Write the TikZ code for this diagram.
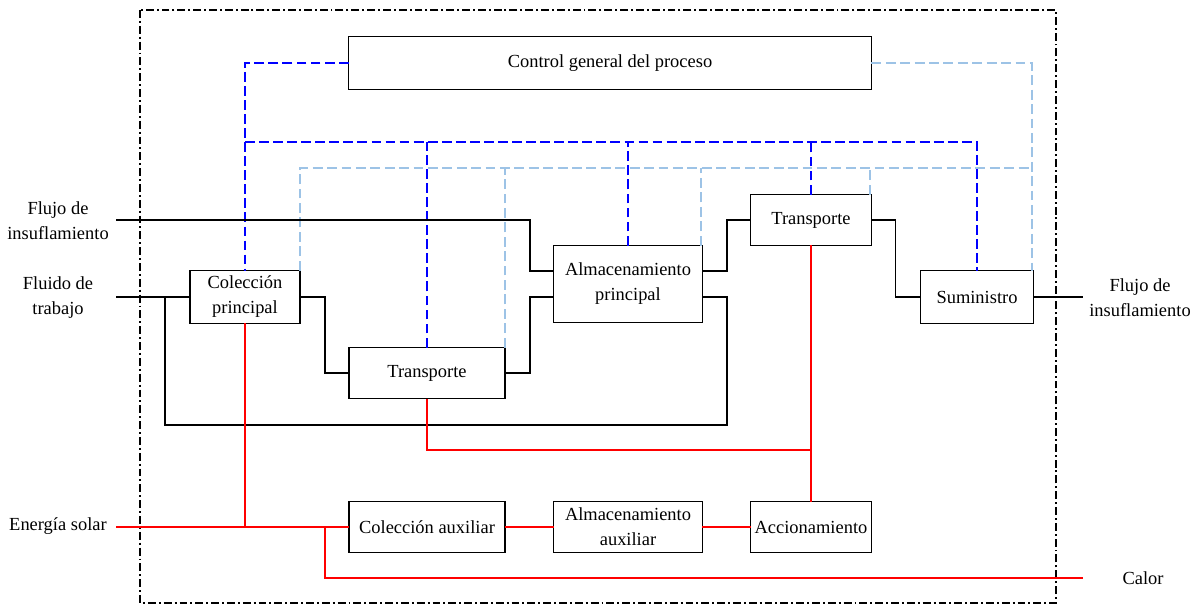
\documentclass[tikz,border=0pt]{standalone}
\usepackage{fontspec}
\setmainfont{Liberation Serif}
\definecolor{ctrlblue}{RGB}{0,0,255}
\definecolor{lightctrl}{RGB}{157,195,230}
\definecolor{energyred}{RGB}{255,0,0}
\begin{document}
\begin{tikzpicture}[x=0.02cm,y=-0.02cm,
  font=\fontsize{10.5}{14.2}\selectfont,
  box/.style={draw, line width=0.75pt, inner sep=0pt, outer sep=0pt, align=center, minimum height=1.02cm},
  lbl/.style={inner sep=0pt, align=center},
  flow/.style={draw=black, line width=0.75pt},
  heat/.style={draw=energyred, line width=0.8pt},
  ctrlA/.style={draw=ctrlblue, line width=1.1pt, dash pattern=on 5.6pt off 2.4pt},
  ctrlB/.style={draw=lightctrl, line width=0.9pt, dash pattern=on 5.6pt off 2.6pt},
  frame/.style={draw=black, line width=1.3pt, dash pattern=on 4.5pt off 1.7pt on 1.1pt off 1.7pt}]

\useasboundingbox (0,0) rectangle (1200,605);

% system boundary
\draw[frame] (140,10) rectangle (1056,603);

% blocks
\node[box, minimum width=10.46cm, minimum height=1.06cm] (ctrl) at (610,63) {Control general del proceso};
\node[box, minimum width=2.2cm, minimum height=1.06cm] (colp) at (245,297) {Colección\\principal};
\node[box, minimum width=3.12cm] (trans2) at (427,373) {Transporte};
\node[box, minimum width=2.98cm, minimum height=1.54cm] (almp) at (628,284) {Almacenamiento\\principal};
\node[box, minimum width=2.42cm] (trans1) at (811,220) {Transporte};
\node[box, minimum width=2.26cm, minimum height=1.06cm] (sum) at (977,297) {Suministro};
\node[box, minimum width=3.12cm] (cola) at (427,527) {Colección auxiliar};
\node[box, minimum width=2.98cm] (alma) at (628,527) {Almacenamiento\\auxiliar};
\node[box, minimum width=2.42cm] (acc) at (811,527) {Accionamiento};

% outside labels
\node[lbl] (lfin) at (58,221) {Flujo de\\insuflamiento};
\node[lbl] (lfdt) at (58,298) {Fluido de\\trabajo};
\node[lbl] (les) at (58,526) {Energía solar};
\node[lbl] (lfout) at (1140,298) {Flujo de\\insuflamiento};
\node[lbl] (lcal) at (1143,578) {Calor};

% helper coordinates
\coordinate (fin) at (116,220);
\coordinate (fdt) at (116,297);
\coordinate (es) at (116,527);
\coordinate (fout) at (1083,297);
\coordinate (calor) at (1083,578);
\coordinate (bb) at (245,142);
\coordinate (lb) at (300,168);
\coordinate (y271) at (0,271);
\coordinate (y450) at (0,450);

% control signals (dark blue)
\draw[ctrlA] (ctrl.west) -| (colp.north);
\draw[ctrlA] (bb) -| (sum.north);
\draw[ctrlA] (trans2.north) -- (trans2.north |- bb);
\draw[ctrlA] (almp.north) -- (almp.north |- bb);
\draw[ctrlA] (trans1.north) -- (trans1.north |- bb);

% control signals (light blue)
\draw[ctrlB] (ctrl.east) -| (1032,0 |- sum.north);
\draw[ctrlB] (colp.north east) |- (1032,0 |- lb);
\draw[ctrlB] (trans2.north east) -- (trans2.north east |- lb);
\draw[ctrlB] (701,0 |- almp.north) -- (701,0 |- lb);
\draw[ctrlB] (870,0 |- trans1.north) -- (870,0 |- lb);

% working fluid / blowing flow (black)
\draw[flow] (fin) -- (530,220) -- (530,271) -- (almp.west |- y271);
\draw[flow] (fdt) -- (colp.west);
\draw[flow] (almp.east |- colp.east) -- (727,297) -- (727,425) -- (165,425) -- (165,297);
\draw[flow] (almp.east |- y271) -- (727,271) |- (trans1.west);
\draw[flow] (colp.east) -- ++(25,0) |- (trans2.west);
\draw[flow] (trans2.east) -- ++(25,0) |- (almp.west |- colp.east);
\draw[flow] (trans1.east) -- ++(24,0) |- (sum.west);
\draw[flow] (sum.east) -- (fout);

% energy (red)
\draw[heat] (es) -- (cola.west);
\draw[heat] (colp.south) -- (colp.south |- cola.west);
\draw[heat] (325,527) -- (325,578) -- (calor);
\draw[heat] (cola.east) -- (alma.west);
\draw[heat] (alma.east) -- (acc.west);
\draw[heat] (acc.north) -- (trans1.south);
\draw[heat] (trans2.south) |- (acc.north |- y450);
\end{tikzpicture}
\end{document}
